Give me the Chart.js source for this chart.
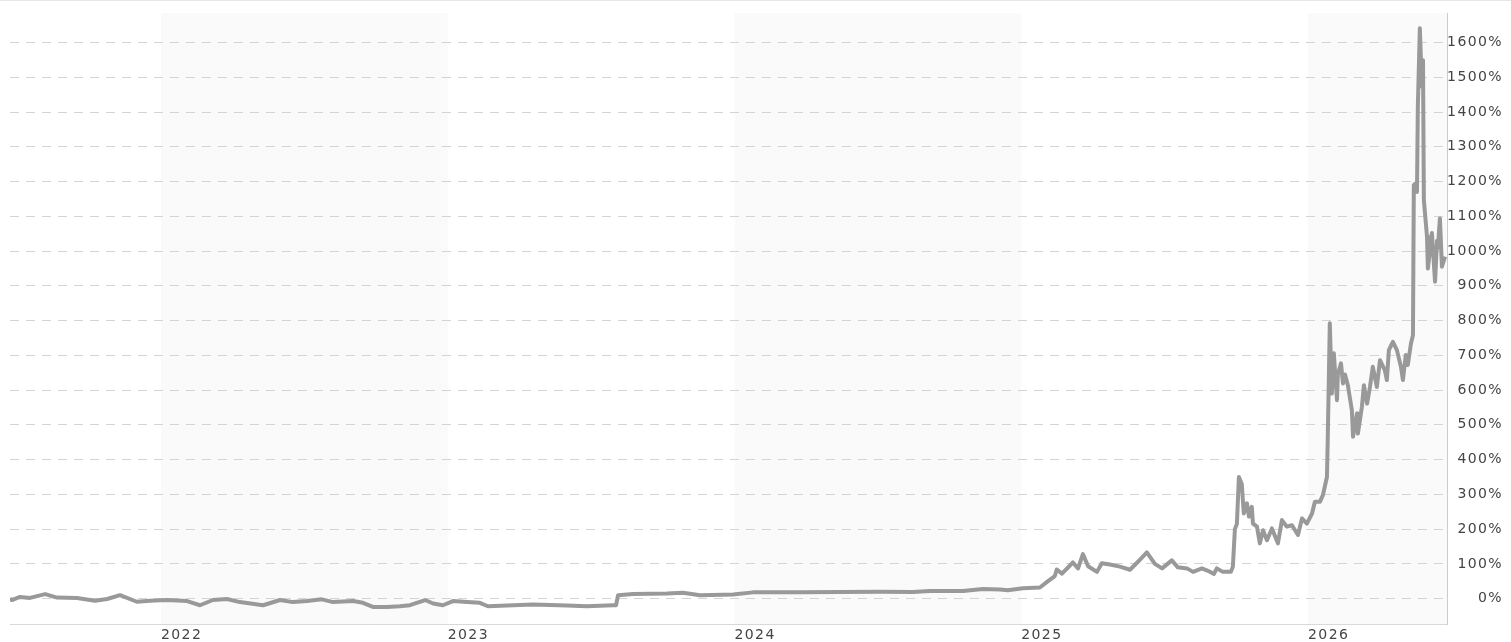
<!DOCTYPE html>
<html><head><meta charset="utf-8">
<script src="https://cdn.jsdelivr.net/npm/chart.js@4"></script>
<style>html,body{margin:0;padding:0;background:#fff;overflow:hidden}</style>
</head><body>
<canvas id="c" width="1511" height="642"></canvas>
<script>
// ---- data (decimal years, percent) ----
const years = [
2021.473,2021.480,2021.508,2021.543,2021.596,2021.637,2021.707,2021.770,2021.812,2021.857,
2021.916,2021.962,2022.021,2022.091,2022.136,2022.181,2022.230,2022.275,2022.356,2022.415,
2022.460,2022.509,2022.561,2022.600,2022.670,2022.704,2022.739,2022.788,2022.833,2022.868,
2022.921,2022.949,2022.983,2023.018,2023.067,2023.112,2023.140,2023.207,2023.297,2023.416,
2023.485,2023.576,2023.587,2023.594,2023.646,2023.764,2023.820,2023.880,2023.995,2024.064,
2024.228,2024.507,2024.622,2024.681,2024.797,2024.866,2024.926,2024.953,2025.006,2025.065,
2025.090,2025.117,2025.124,2025.142,2025.180,2025.198,2025.215,2025.233,2025.264,2025.281,
2025.309,2025.344,2025.379,2025.407,2025.438,2025.466,2025.491,2025.525,2025.546,2025.578,
2025.599,2025.630,2025.651,2025.672,2025.682,2025.703,2025.731,2025.738,2025.745,2025.752,
2025.759,2025.769,2025.776,2025.787,2025.794,2025.804,2025.808,2025.822,2025.832,2025.843,
2025.857,2025.874,2025.895,2025.909,2025.926,2025.944,2025.965,2025.979,2025.996,2026.014,
2026.024,2026.042,2026.052,2026.066,2026.069,2026.076,2026.083,2026.090,2026.101,2026.104,
2026.115,2026.122,2026.129,2026.139,2026.153,2026.157,2026.171,2026.174,2026.188,2026.195,
2026.206,2026.216,2026.226,2026.240,2026.251,2026.268,2026.275,2026.282,2026.296,2026.310,
2026.324,2026.331,2026.341,2026.348,2026.359,2026.366,2026.369,2026.376,2026.380,2026.383,
2026.390,2026.397,2026.401,2026.404,2026.415,2026.418,2026.432,2026.443,2026.450,2026.453,
2026.460,2026.467,2026.478
];
const values = [
0,-4,5,2,13,3,2,-6,-1,10,
-9,-6,-4,-7,-19,-4,-1,-10,-19,-4,
-10,-7,-2,-10,-7,-12,-24,-24,-22,-19,
-4,-14,-19,-7,-10,-12,-22,-20,-17,-20,
-22,-19,-19,10,13,15,17,10,12,18,
18,20,19,22,22,28,26,24,30,32,
48,65,84,72,104,87,128,93,77,102,
98,92,83,106,133,100,87,110,90,87,
77,87,80,71,87,77,77,92,200,215,
350,330,245,274,236,264,216,207,159,197,
168,202,159,226,207,211,183,231,216,245,
279,279,298,350,466,792,590,706,571,645,
677,619,645,614,542,466,533,475,552,614,
561,609,667,609,686,657,629,715,739,715,
667,629,701,672,734,758,1190,1195,1170,1415,
1641,1473,1549,1147,1041,950,1052,912,1030,1010,
1094,955,984
];
const yTickValues = [0,100,200,300,400,500,600,700,800,900,1000,1100,1200,1300,1400,1500,1600];
const xTickValues = [2022,2023,2024,2025,2026];
const xTickLabels = ['2022','2023','2024','2025','2026'];
const shadedYears = [[2022,2023],[2024,2025],[2026,2027]];

const points = years.map((t,i)=>({x:t,y:values[i]}));

const bgPlugin = {
  id:'bg',
  beforeUpdate(chart){ chart.ctx.letterSpacing = '1.4px'; },
  beforeDraw(chart){
    const {ctx, chartArea:a, scales:{x}} = chart;
    ctx.save();
    ctx.fillStyle = '#fafafa';
    shadedYears.forEach(([s,e])=>{
      const x1 = Math.max(a.left, x.getPixelForValue(s));
      const x2 = Math.min(a.right, x.getPixelForValue(e));
      if (x2 > x1) ctx.fillRect(x1, a.top, x2-x1, a.bottom-a.top);
    });
    ctx.strokeStyle = '#e6e6e6';
    ctx.lineWidth = 1;
    ctx.beginPath(); ctx.moveTo(0,0.5); ctx.lineTo(chart.width,0.5); ctx.stroke();
    ctx.restore();
  }
};

new Chart(document.getElementById('c'), {
  type:'line',
  data:{ datasets:[{
    data: points,
    borderColor:'#999999',
    borderWidth:4,
    pointRadius:0,
    tension:0,
    borderJoinStyle:'round',
    fill:false
  }]},
  options:{
    responsive:false,
    animation:false,
    devicePixelRatio:1,
    layout:{ padding:{ left:10, right:8, top:13, bottom:0 } },
    plugins:{ legend:{display:false}, tooltip:{enabled:false} },
    scales:{
      x:{
        type:'linear',
        min:2021.4734, max:2026.4847,
        afterBuildTicks(s){ s.ticks = xTickValues.map(v=>({value:v})); },
        afterFit(s){ s.height = 18; },
        grid:{ display:false, drawTicks:false },
        border:{ display:true, color:'#d9d9d9', width:1 },
        ticks:{
          align:'start', padding:3, maxRotation:0, autoSkip:false,
          color:'#444', font:{ family:'DejaVu Sans', size:14 },
          callback:(v)=>{ const i = xTickValues.indexOf(v); return i>=0 ? xTickLabels[i] : ''; }
        }
      },
      y:{
        position:'right',
        min:-73, max:1685,
        afterBuildTicks(s){ s.ticks = yTickValues.map(v=>({value:v})); },
        afterFit(s){ s.width = 56; },
        grid:{ color:'#d4d4d4', lineWidth:1, drawTicks:false },
        border:{ display:true, color:'#cccccc', width:1, dash:[9,7] },
        ticks:{
          crossAlign:'far', padding:1,
          color:'#444', font:{ family:'DejaVu Sans', size:14 },
          callback:(v)=> v + '%'
        }
      }
    }
  },
  plugins:[bgPlugin]
});
</script>
</body></html>
